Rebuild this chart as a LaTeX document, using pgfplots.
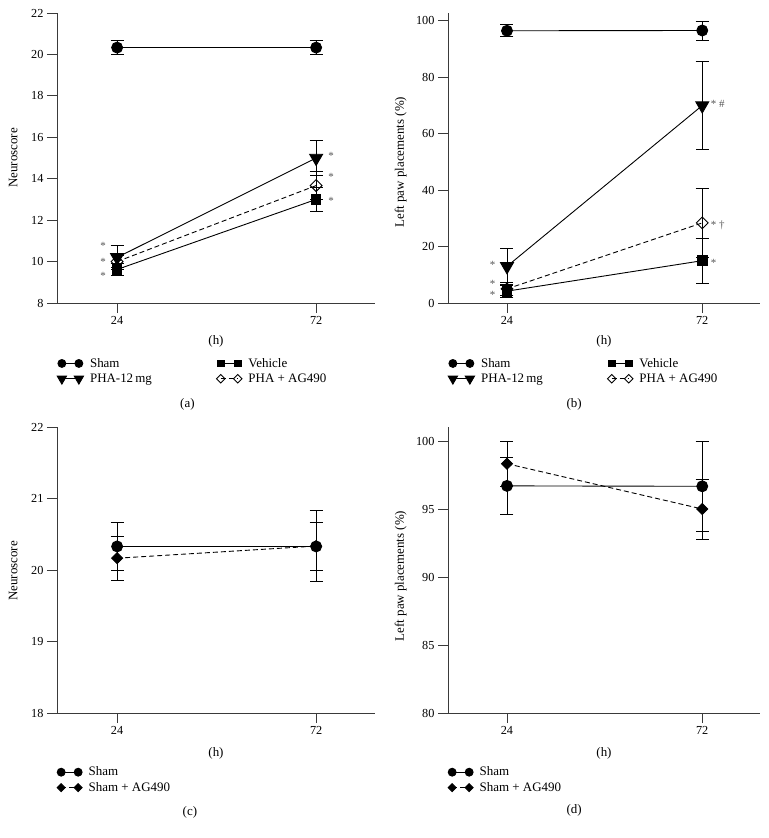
\documentclass[border=0pt]{standalone}
\usepackage{fontspec}
\setmainfont{Liberation Serif}
\usepackage{pgfplots}
\pgfplotsset{compat=1.18}
\definecolor{axgray}{HTML}{3A3A3A}
\definecolor{stargray}{HTML}{555555}

\tikzset{sig/.style={text=stargray, font=\fontsize{11}{13}\selectfont, inner sep=0pt}}
\pgfplotsset{
  panel/.style={
    scale only axis,
    clip=false,
    axis x line*=bottom,
    axis y line*=left,
    axis line style={axgray, line width=0.9bp},
    every tick/.style={axgray, line width=0.9bp},
    tick align=outside,
    major tick length=10bp,
    xmin=9.5, xmax=86.2,
    xtick={24,72},
    minor tick num=0,
    /pgf/number format/assume math mode=true,
    tick label style={font=\fontsize{12.3}{14}\selectfont, text=black},
    label style={font=\fontsize{13}{15}\selectfont},
    xlabel={(h)},
    xlabel style={at={(axis description cs:0.5,-0.134)}, anchor=center},
    legend cell align=left,
    legend style={draw=none, fill=none, font=\fontsize{13}{15}\selectfont,
      at={(axis description cs:0,-0.2345)}, anchor=west, inner sep=0pt,
      row sep=0pt,
      nodes={inner sep=2.5bp},
      /tikz/every odd column/.append style={column sep=4bp},
      /tikz/every even column/.append style={column sep=62bp}},
    legend image code/.code={\draw[mark repeat=2, mark phase=1, #1, every mark/.append style={scale=0.72}] plot coordinates {(0bp,0bp) (8.5bp,0bp) (17bp,0bp)};},
    error bars/y dir=both, error bars/y explicit,
    error bars/error mark options={rotate=90, mark size=6.5bp, black, solid, line width=0.8bp},
    error bars/error bar style={black, solid, line width=0.8bp},
  },
  sham/.style={black, line width=0.9bp, mark=*, mark size=5.5bp, mark options={solid}},
  veh/.style={black, line width=0.9bp, mark=square*, mark size=4.8bp, mark options={solid}},
  pha/.style={black, line width=0.9bp, mark=triangle*, mark size=7.5bp, mark options={solid, rotate=180}},
  phaag/.style={black, line width=0.9bp, dash pattern=on 5bp off 3bp, mark=square, mark size=4.2bp, mark options={solid, rotate=45, fill=white}},
  shamag/.style={black, line width=0.9bp, dash pattern=on 5bp off 3bp, mark=square*, mark size=3.9bp, mark options={solid, rotate=45}},
}

\begin{document}
\begin{tikzpicture}
\useasboundingbox (0,0) rectangle (769bp,-838bp);

% (a)
\begin{axis}[panel, at={(57bp,-303bp)}, anchor=south west,
  width=318bp, height=290bp,
  ymin=8, ymax=22, ytick={8,10,...,22},
  ylabel={Neuroscore},
  ylabel style={at={(axis description cs:-0.138,0.5)}, anchor=center},
  legend columns=2]
\addplot[sham] coordinates {(24,20.33) +- (0,0.33) (72,20.33) +- (0,0.33)};
\addlegendentry{Sham}
\addplot[veh] coordinates {(24,9.62) +- (0,0.28) (72,13.0) +- (0,0.57)};
\addlegendentry{Vehicle}
\addplot[pha] coordinates {(24,10.2) +- (0,0.57) (72,15.0) +- (0,0.85)};
\addlegendentry{PHA-12\,mg}
\addplot[phaag] coordinates {(24,10.0) +- (0,0.3) (72,13.67) +- (0,0.67)};
\addlegendentry{PHA + AG490}
\node[sig, anchor=base west, xshift=12bp, yshift=-5bp] at (axis cs:72,15.18) {*};
\node[sig, anchor=base west, xshift=12bp, yshift=-5bp] at (axis cs:72,14.15) {*};
\node[sig, anchor=base west, xshift=12bp, yshift=-5bp] at (axis cs:72,13.0) {*};
\node[sig, anchor=base east, xshift=-11bp, yshift=-5bp] at (axis cs:24,10.82) {*};
\node[sig, anchor=base east, xshift=-11bp, yshift=-5bp] at (axis cs:24,10.04) {*};
\node[sig, anchor=base east, xshift=-11bp, yshift=-5bp] at (axis cs:24,9.39) {*};
\node[font=\fontsize{13}{15}\selectfont] at (axis description cs:0.41,-0.348) {(a)};
\end{axis}

% (b)
\begin{axis}[panel, at={(448bp,-303bp)}, anchor=south west,
  width=312bp, height=290bp,
  ymin=0, ymax=102.8, ytick={0,20,...,100},
  ylabel={Left paw placements (\%)},
  ylabel style={at={(axis description cs:-0.152,0.486)}, anchor=center},
  legend columns=2]
\addplot[sham] coordinates {(24,96.5) +- (0,2.1) (72,96.6) +- (0,3.35)};
\addlegendentry{Sham}
\addplot[veh] coordinates {(24,4.2) +- (0,2.2) (72,15.0) +- (0,8.0)};
\addlegendentry{Vehicle}
\addplot[pha] coordinates {(24,13.0) +- (0,6.4) (72,70.0) +- (0,15.5)};
\addlegendentry{PHA-12\,mg}
\addplot[phaag] coordinates {(24,5.0) +- (0,2.3) (72,28.4) +- (0,12.1)};
\addlegendentry{PHA + AG490}
\node[sig, anchor=base west, xshift=8.5bp, yshift=-5bp] at (axis cs:72,71.2) {* \#};
\node[sig, anchor=base west, xshift=8.5bp, yshift=-5bp] at (axis cs:72,28.3) {* †};
\node[sig, anchor=base west, xshift=8.5bp, yshift=-5bp] at (axis cs:72,14.6) {*};
\node[sig, anchor=base east, xshift=-11.5bp, yshift=-5bp] at (axis cs:24,14.1) {*};
\node[sig, anchor=base east, xshift=-11.5bp, yshift=-5bp] at (axis cs:24,7.3) {*};
\node[sig, anchor=base east, xshift=-11.5bp, yshift=-5bp] at (axis cs:24,3.2) {*};
\node[font=\fontsize{13}{15}\selectfont] at (axis description cs:0.404,-0.348) {(b)};
\end{axis}

% (c)
\begin{axis}[panel, at={(57bp,-713bp)}, anchor=south west,
  width=318bp, height=286bp,
  ymin=18, ymax=22, ytick={18,19,...,22},
  ylabel={Neuroscore},
  ylabel style={at={(axis description cs:-0.138,0.497)}, anchor=center},
  xlabel style={at={(axis description cs:0.5,-0.14)}, anchor=center},
  legend style={at={(axis description cs:0,-0.234)}},
  legend columns=1]
\addplot[sham] coordinates {(24,20.33) +- (0,0.33) (72,20.33) +- (0,0.33)};
\addlegendentry{Sham}
\addplot[shamag] coordinates {(24,20.165) +- (0,0.305) (72,20.335) +- (0,0.495)};
\addlegendentry{Sham + AG490}
\node[font=\fontsize{13}{15}\selectfont] at (axis description cs:0.418,-0.346) {(c)};
\end{axis}

% (d)
\begin{axis}[panel, at={(448bp,-713bp)}, anchor=south west,
  width=312bp, height=286bp,
  ymin=80, ymax=101.03, ytick={80,85,...,100},
  ylabel={Left paw placements (\%)},
  ylabel style={at={(axis description cs:-0.152,0.479)}, anchor=center},
  xlabel style={at={(axis description cs:0.5,-0.14)}, anchor=center},
  legend style={at={(axis description cs:0,-0.234)}},
  legend columns=1]
\addplot[sham] coordinates {(24,96.7) +- (0,2.1) (72,96.67) +- (0,3.33)};
\addlegendentry{Sham}
\addplot[shamag] coordinates {(24,98.33) +- (0,1.67) (72,95.0) +- (0,2.2)};
\addlegendentry{Sham + AG490}
\node[font=\fontsize{13}{15}\selectfont] at (axis description cs:0.404,-0.34) {(d)};
\end{axis}
\end{tikzpicture}
\end{document}
